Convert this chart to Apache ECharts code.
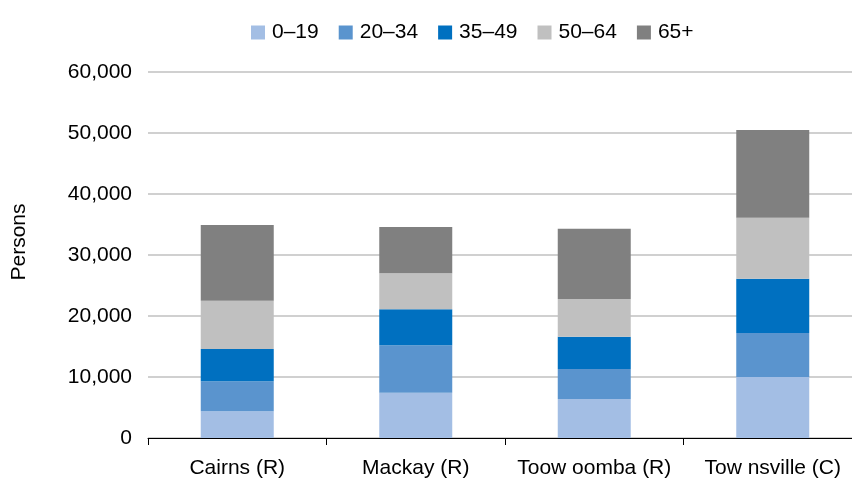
<!DOCTYPE html>
<html>
<head>
<meta charset="utf-8">
<script src="https://cdn.jsdelivr.net/npm/echarts@6/dist/echarts.min.js"></script>
<style>
html,body{margin:0;padding:0;background:#fff;overflow:hidden;}
#chart{width:862px;height:480px;}
</style>
</head>
<body>
<div id="chart"></div>
<script>
var categories = ['Cairns (R)', 'Mackay (R)', 'Toow oomba (R)', 'Tow nsville (C)'];
var seriesNames = ['0\u201319', '20\u201334', '35\u201349', '50\u201364', '65+'];
var age0_19  = [4400, 7400, 6400, 10000];
var age20_34 = [4900, 7800, 4900, 7200];
var age35_49 = [5300, 5900, 5300, 8900];
var age50_64 = [7900, 5900, 6200, 10000];
var age65    = [12400, 7600, 11500, 14400];
var yTicks = [0, 10000, 20000, 30000, 40000, 50000, 60000];

var colors = ['#a3bee4', '#5a94ce', '#0070c0', '#c0c0c0', '#808080'];
var values = [age0_19, age20_34, age35_49, age50_64, age65];
var FONT = '"Liberation Sans", Arial, sans-serif';
var FS = 21;

var chart = echarts.init(document.getElementById('chart'), null, {renderer: 'canvas'});
chart.setOption({
  animation: false,
  color: colors,
  textStyle: {fontFamily: FONT, color: '#000'},
  legend: {
    data: seriesNames,
    left: 251,
    top: 22,
    padding: 0,
    icon: 'rect',
    itemWidth: 14,
    itemHeight: 14,
    itemGap: 20,
    textStyle: {fontFamily: FONT, fontSize: FS, color: '#000', padding: [0, 0, 0, 2]}
  },
  grid: {left: 148, right: 0, top: 72, bottom: 42, containLabel: false},
  xAxis: {
    type: 'category',
    data: categories,
    axisLine: {lineStyle: {color: '#000', width: 1}},
    axisTick: {show: true, length: 7, lineStyle: {color: '#000'}},
    axisLabel: {fontFamily: FONT, fontSize: FS, color: '#000', margin: 20, interval: 0}
  },
  yAxis: {
    type: 'value',
    min: yTicks[0],
    max: yTicks[yTicks.length - 1],
    interval: yTicks[1] - yTicks[0],
    name: 'Persons',
    nameLocation: 'middle',
    nameRotate: 90,
    nameGap: 118,
    nameTextStyle: {fontFamily: FONT, fontSize: FS, color: '#000', padding: [0, 0, 0, 26]},
    axisLine: {show: false},
    axisTick: {show: false},
    splitLine: {lineStyle: {color: '#c0c0c0', width: 1.5}},
    axisLabel: {
      fontFamily: FONT, fontSize: FS, color: '#000', margin: 16,
      formatter: function (v) { return v.toLocaleString('en-US'); }
    }
  },
  series: seriesNames.map(function (n, i) {
    return {
      name: n,
      type: 'bar',
      stack: 'total',
      barWidth: 73,
      data: values[i],
      itemStyle: {color: colors[i]}
    };
  })
});
</script>
</body>
</html>
